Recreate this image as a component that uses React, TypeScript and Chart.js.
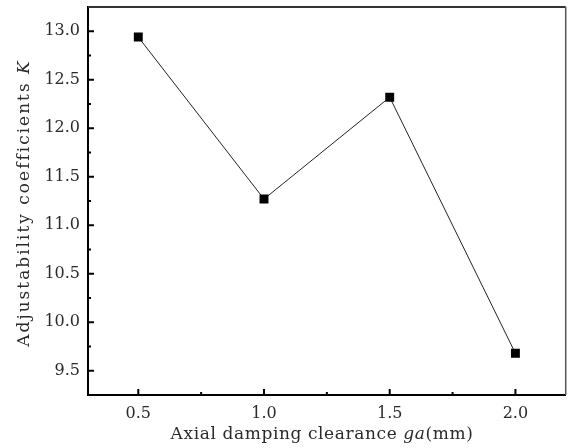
import React, { useEffect, useRef } from "react";
import { Chart, registerables } from "chart.js";

Chart.register(...registerables);

const clearance = [0.5, 1.0, 1.5, 2.0];
const kValues = [12.94, 11.27, 12.32, 9.68];
const xTicks = [0.5, 1.0, 1.5, 2.0];
const yTicks = [9.5, 10.0, 10.5, 11.0, 11.5, 12.0, 12.5, 13.0];
const xTitleParts = [
  { text: "Axial damping clearance ", italic: false },
  { text: "ga", italic: true },
  { text: "(mm)", italic: false },
];
const yTitleParts = [
  { text: "Adjustability coefficients ", italic: false },
  { text: "K", italic: true },
];

const FONT = "'DejaVu Serif', serif";
const TEXT = "#2a2a2a";

function drawParts(
  ctx: CanvasRenderingContext2D,
  parts: { text: string; italic: boolean }[],
  size: number,
  spacing: number
) {
  (ctx as any).letterSpacing = `${spacing}px`;
  const widths = parts.map((p) => {
    ctx.font = `${p.italic ? "italic " : ""}${size}px ${FONT}`;
    return ctx.measureText(p.text).width;
  });
  const total = widths.reduce((a, b) => a + b, 0);
  let x = -total / 2;
  parts.forEach((p, i) => {
    ctx.font = `${p.italic ? "italic " : ""}${size}px ${FONT}`;
    ctx.fillText(p.text, x, 0);
    x += widths[i];
  });
  (ctx as any).letterSpacing = "0px";
}

const framePlugin = {
  id: "frame",
  afterDraw(chart: any) {
    const { ctx, chartArea: a, scales } = chart;
    const xs = scales.x;
    const ys = scales.y;
    ctx.save();
    ctx.strokeStyle = "#333";
    ctx.lineWidth = 2;
    ctx.beginPath();
    ctx.moveTo(a.left, a.top);
    ctx.lineTo(a.right, a.top);
    ctx.stroke();
    ctx.lineWidth = 1.5;
    ctx.strokeStyle = "#555";
    ctx.beginPath();
    ctx.moveTo(a.right, a.top);
    ctx.lineTo(a.right, a.bottom);
    ctx.stroke();
    ctx.strokeStyle = "#000";
    ctx.lineWidth = 2;
    ctx.beginPath();
    xTicks.forEach((v, i) => {
      const px = xs.getPixelForValue(v);
      ctx.moveTo(px, a.bottom);
      ctx.lineTo(px, a.bottom - 6);
      if (i < xTicks.length - 1) {
        const mx = xs.getPixelForValue((v + xTicks[i + 1]) / 2);
        ctx.moveTo(mx, a.bottom);
        ctx.lineTo(mx, a.bottom - 3);
      }
    });
    yTicks.forEach((v, i) => {
      const py = ys.getPixelForValue(v);
      ctx.moveTo(a.left, py);
      ctx.lineTo(a.left + 6, py);
      if (i < yTicks.length - 1) {
        const my = ys.getPixelForValue((v + yTicks[i + 1]) / 2);
        ctx.moveTo(a.left, my);
        ctx.lineTo(a.left + 3, my);
      }
    });
    ctx.stroke();
    ctx.fillStyle = TEXT;
    ctx.textBaseline = "middle";
    ctx.textAlign = "left";
    ctx.save();
    ctx.translate(322, 435);
    drawParts(ctx, xTitleParts, 17, 0.6);
    ctx.restore();
    ctx.save();
    ctx.translate(25, 203);
    ctx.rotate(-Math.PI / 2);
    drawParts(ctx, yTitleParts, 17, 2);
    ctx.restore();
    ctx.restore();
  },
};

export default function App() {
  const ref = useRef<HTMLCanvasElement>(null);
  useEffect(() => {
    document.body.style.margin = "0";
    const chart = new Chart(ref.current!, {
      type: "line",
      data: {
        datasets: [
          {
            data: clearance.map((x, i) => ({ x, y: kValues[i] })),
            borderColor: "#222",
            borderWidth: 1,
            pointStyle: "rect",
            pointRadius: 6.3,
            pointBackgroundColor: "#000",
            pointBorderColor: "#000",
            pointBorderWidth: 0,
            tension: 0,
          },
        ],
      },
      options: {
        animation: false,
        responsive: false,
        layout: { padding: { left: 0, right: 5, top: 7, bottom: 0 } },
        plugins: { legend: { display: false }, tooltip: { enabled: false } },
        scales: {
          x: {
            type: "linear",
            min: 0.3,
            max: 2.2,
            afterBuildTicks: (s: any) => {
              s.ticks = xTicks.map((v) => ({ value: v }));
            },
            afterFit: (s: any) => {
              s.height = 53;
              s.paddingLeft = 0;
              s.paddingRight = 0;
            },
            grid: { display: false, drawTicks: false },
            border: { display: true, color: "#000", width: 2 },
            ticks: {
              padding: 9,
              color: TEXT,
              font: { family: FONT, size: 16 },
              callback: (v: any) => Number(v).toFixed(1),
            },
          },
          y: {
            type: "linear",
            min: 9.25,
            max: 13.25,
            afterBuildTicks: (s: any) => {
              s.ticks = yTicks.map((v) => ({ value: v }));
            },
            afterFit: (s: any) => {
              s.width = 88;
              s.paddingTop = 0;
              s.paddingBottom = 0;
            },
            grid: { display: false, drawTicks: false },
            border: { display: true, color: "#000", width: 2 },
            ticks: {
              padding: 8,
              color: TEXT,
              font: { family: FONT, size: 16 },
              callback: (v: any) => Number(v).toFixed(1),
            },
          },
        },
      },
      plugins: [framePlugin],
    } as any);
    return () => chart.destroy();
  }, []);
  return <canvas ref={ref} width={572} height={448} style={{ display: "block" }} />;
}
